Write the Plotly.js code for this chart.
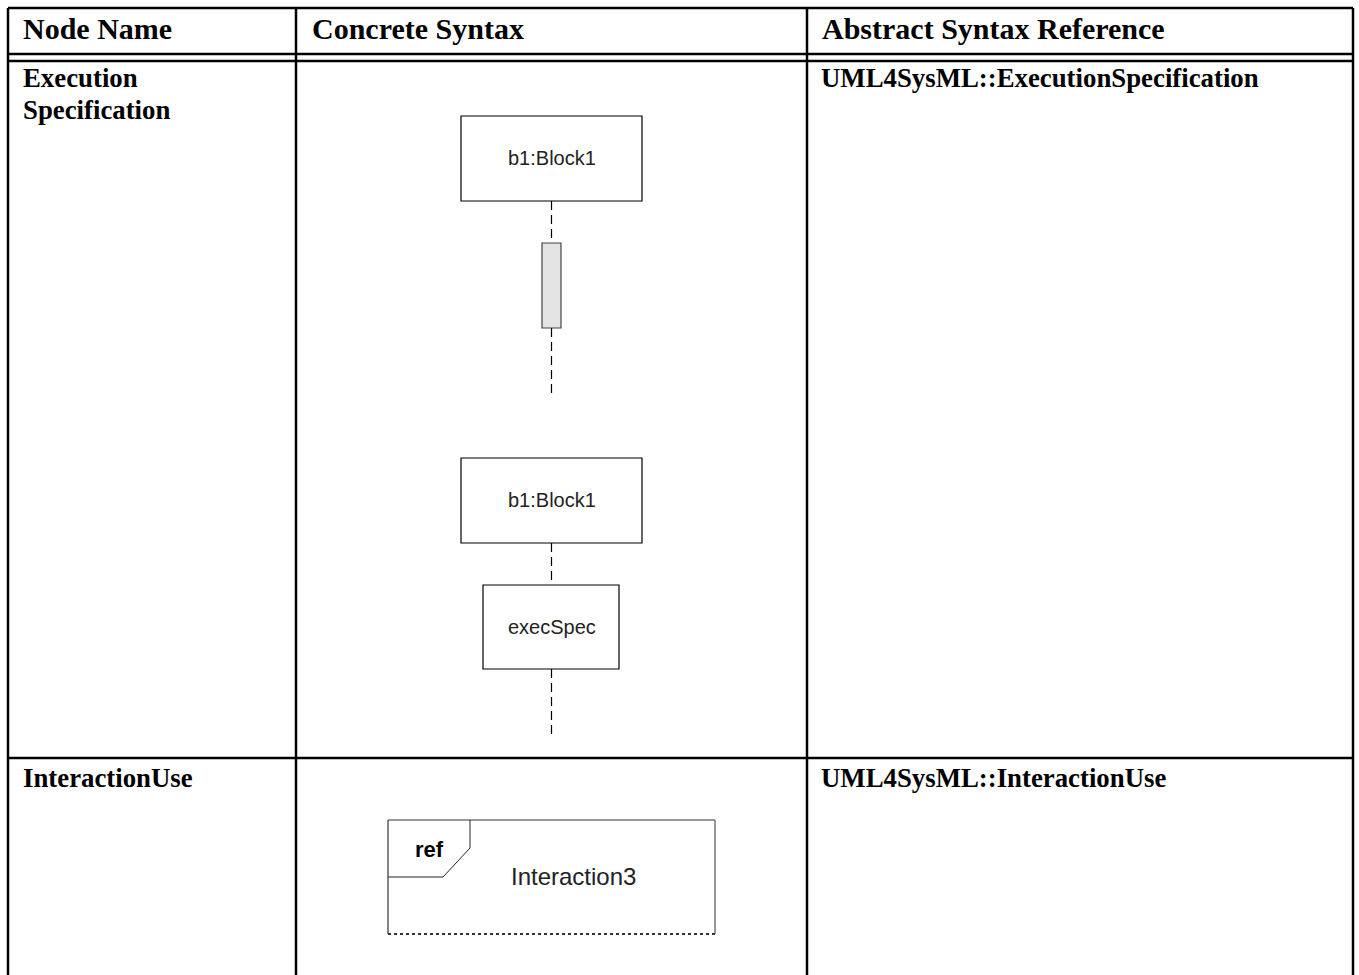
<!DOCTYPE html>
<html>
<head>
<meta charset="utf-8">
<script src="https://cdn.plot.ly/plotly-3.0.1.min.js"></script>
<style>html,body{margin:0;padding:0;background:#fff;}#chart{width:1359px;height:975px;}</style>
</head>
<body>
<div id="chart"></div>
<script>
// ---- content ----
const columnHeaders = ["Node Name", "Concrete Syntax", "Abstract Syntax Reference"];
const nodeNames = [["Execution", "Specification"], ["InteractionUse"]];
const abstractRefs = ["UML4SysML::ExecutionSpecification", "UML4SysML::InteractionUse"];
const lifelineLabels = ["b1:Block1", "b1:Block1"];
const execSpecLabel = "execSpec";
const refKeyword = "ref";
const refTarget = "Interaction3";

// ---- geometry (layout only) ----
const W = 1359, H = 975;
const colX = [8, 296, 807, 1353];
const rowY = { top: 8, head1: 54, head2: 61, sep: 758 };
const serif = "Liberation Serif, Times New Roman, serif";
const sans = "Liberation Sans, Arial, Helvetica, sans-serif";

const shapes = [];
const ann = [];
function line(x0, y0, x1, y1, w, color, dash) {
  shapes.push({type: "line", xref: "x", yref: "y", x0, y0, x1, y1,
    line: {width: w, color: color || "#000", dash: dash || "solid"}});
}
function rect(x0, y0, x1, y1, w, color, fill) {
  shapes.push({type: "rect", xref: "x", yref: "y", x0, y0, x1, y1,
    line: {width: w, color: color || "#000"}, fillcolor: fill || "rgba(0,0,0,0)"});
}
function text(t, x, y, font, xanchor) {
  ann.push({text: t, x, y, xref: "x", yref: "y", showarrow: false,
    xanchor: xanchor || "left", yanchor: "middle", font});
}

// table grid
line(colX[0], rowY.top, colX[3], rowY.top, 2.5);
line(colX[0], rowY.head1, colX[3], rowY.head1, 2.5);
line(colX[0], rowY.head2, colX[3], rowY.head2, 2.5);
line(colX[0], rowY.sep, colX[3], rowY.sep, 2.5);
colX.forEach(x => line(x, rowY.top, x, H + 5, 2.5));

// headers
const hFont = {family: serif, size: 30, color: "#000"};
const bFont = {family: serif, size: 26.8, color: "#000"};
const headX = [21, 310, 820];
columnHeaders.forEach((h, i) => text("<b>" + h + "</b>", headX[i], 28, hFont));

// row 1 & 2 names / refs
const rowTextY = [78, 778];
nodeNames.forEach((lines, r) => {
  lines.forEach((l, k) => text("<b>" + l + "</b>", 21, rowTextY[r] + k * 32, bFont));
});
abstractRefs.forEach((a, r) => text("<b>" + a + "</b>", 819, rowTextY[r], bFont));

// Execution specification diagram (1)
const cx = 551.5;
const lblFont = {family: sans, size: 20, color: "#222"};
rect(461, 116, 642, 201, 1.2, "#000");
text(lifelineLabels[0], cx, 158, lblFont, "center");
line(cx, 201, cx, 243, 1.2, "#000", "9px,5px");
rect(542, 243, 561, 328, 1.2, "#444", "#e4e4e4");
line(cx, 328, cx, 393, 1.2, "#000", "9px,5px");

// Execution specification diagram (2)
rect(461, 458, 642, 543, 1.2, "#000");
text(lifelineLabels[1], cx, 500, lblFont, "center");
line(cx, 543, cx, 585, 1.2, "#000", "9px,5px");
rect(483, 585, 619, 669, 1.2, "#000");
text(execSpecLabel, cx, 627, lblFont, "center");
line(cx, 669, cx, 735, 1.2, "#000", "9px,5px");

// Interaction use diagram
line(388, 820, 715, 820, 1, "#333");
line(388, 820, 388, 934, 1.2, "#333");
line(715, 820, 715, 934, 1.2, "#555");
line(388, 934, 715, 934, 2, "#333", "dot");
shapes.push({type: "path", xref: "x", yref: "y",
  path: "M 388 877 L 443 877 L 470 848 L 470 820",
  line: {width: 1, color: "#222"}});
text("<b>" + refKeyword + "</b>", 429, 849, {family: sans, size: 22, color: "#000"}, "center");
text(refTarget, 573, 876, {family: sans, size: 24, color: "#222"}, "center");

// invisible trace to establish axes
const data = [{x: [0, W], y: [0, H], mode: "markers", marker: {opacity: 0}, hoverinfo: "skip", showlegend: false}];

const layout = {
  width: W, height: H,
  margin: {l: 0, r: 0, t: 0, b: 0},
  paper_bgcolor: "#fff", plot_bgcolor: "#fff",
  xaxis: {range: [0, W], visible: false, fixedrange: true},
  yaxis: {range: [H, 0], visible: false, fixedrange: true},
  shapes, annotations: ann, showlegend: false
};
Plotly.newPlot("chart", data, layout, {displayModeBar: false, staticPlot: true});
</script>
</body>
</html>
